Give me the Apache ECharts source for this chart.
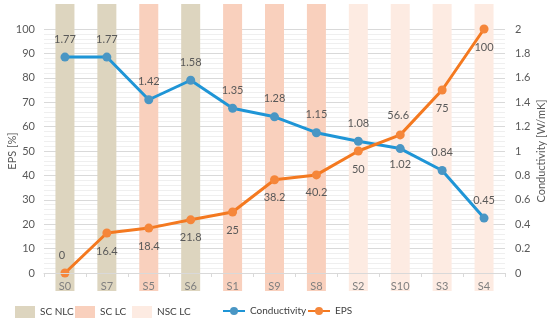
<!DOCTYPE html>
<html><head><meta charset="utf-8">
<script src="https://cdn.jsdelivr.net/npm/echarts@6/dist/echarts.min.js"></script>
<style>html,body{margin:0;padding:0;background:#fff}#c{width:550px;height:320px}</style>
</head><body><div id="c"></div>
<script>
var categories = ['S0','S7','S5','S6','S1','S9','S8','S2','S10','S3','S4'];
var conductivity = [1.77,1.77,1.42,1.58,1.35,1.28,1.15,1.08,1.02,0.84,0.45];
var eps = [0,16.4,18.4,21.8,25,38.2,40.2,50,56.6,75,100];
var groups = ['SC NLC','SC NLC','SC LC','SC NLC','SC LC','SC LC','SC LC','NSC LC','NSC LC','NSC LC','NSC LC'];
var groupNames = ['SC NLC','SC LC','NSC LC'];
var groupColors = {'SC NLC':'#ddd5bf','SC LC':'#f9d0bd','NSC LC':'#fdebe2'};
var leftTicks = {min:0,max:100,interval:10};
var rightTicks = {min:0,max:2,interval:0.2};

var FONT = 'Lato';
var txt = '#595959';

var bandSeries = groupNames.map(function(g){
  return {
    name: g, type:'bar', xAxisIndex:1, yAxisIndex:2,
    barWidth:19, barGap:'-100%', silent:true, z:1,
    itemStyle:{color:groupColors[g]},
    data: groups.map(function(x){return x===g?1:'-';})
  };
});

var condData = conductivity.map(function(v,i){
  var d = {value:v};
  if (categories[i]==='S10') d.label = {position:'bottom', distance:6};
  return d;
});
var epsData = eps.map(function(v,i){
  var d = {value:v};
  if (i===0) { d.label = {position:'top', distance:8, offset:[-3,0]}; }
  else if (categories[i]==='S10') { d.label = {position:'top', distance:9, offset:[-2,0]}; }
  return d;
});

var legendBase = {orient:'horizontal', top:301, textStyle:{color:'#404040',fontSize:10,fontFamily:FONT}, selectedMode:false};

var option = {
  animation:false,
  textStyle:{fontFamily:FONT},
  grid:[
    {left:44, right:45, top:29, bottom:47, outerBoundsMode:'none', containLabel:false},
    {left:44, right:45, top:4, bottom:29, outerBoundsMode:'none', containLabel:false}
  ],
  legend:[
    Object.assign({}, legendBase, {left:10, data:['SC NLC'], itemWidth:20, itemHeight:12, icon:'rect'}),
    Object.assign({}, legendBase, {left:70, data:['SC LC'], itemWidth:20, itemHeight:12, icon:'rect'}),
    Object.assign({}, legendBase, {left:127, data:['NSC LC'], itemWidth:20, itemHeight:12, icon:'rect'}),
    Object.assign({}, legendBase, {left:217, data:['Conductivity'], itemWidth:22, itemHeight:10}),
    Object.assign({}, legendBase, {left:302, data:['EPS'], itemWidth:22, itemHeight:10})
  ],
  xAxis:[
    {type:'category', gridIndex:0, data:categories, boundaryGap:true,
     axisLine:{lineStyle:{color:'#d9d9d9'}},
     axisTick:{show:true, length:4, lineStyle:{color:'#d9d9d9'}},
     axisLabel:{color:'#7f7f7f', fontSize:11, margin:8},
     splitLine:{show:false}, z:5},
    {type:'category', gridIndex:1, data:categories, boundaryGap:true, show:false}
  ],
  yAxis:[
    {type:'value', gridIndex:0, min:leftTicks.min, max:leftTicks.max, interval:leftTicks.interval,
     name:'EPS [%]', nameLocation:'middle', nameGap:26, nameMoveOverlap:false, nameTextStyle:{color:txt,fontSize:11},
     axisLine:{show:false}, axisTick:{show:false},
     axisLabel:{color:txt, fontSize:11, margin:9},
     splitLine:{show:true, lineStyle:{color:'#d9d9d9'}},
     minorTick:{show:false, splitNumber:5},
     minorSplitLine:{show:true, lineStyle:{color:'#efefef'}}},
    {type:'value', gridIndex:0, position:'right', min:rightTicks.min, max:rightTicks.max, interval:rightTicks.interval,
     name:'Conductivity [W/mK]', nameLocation:'middle', nameGap:31, nameMoveOverlap:false, nameRotate:90, nameTextStyle:{color:txt,fontSize:11},
     axisLine:{show:false}, axisTick:{show:false},
     axisLabel:{color:txt, fontSize:11, margin:10, formatter:function(v){return String(Math.round(v*10)/10);}},
     splitLine:{show:false}},
    {type:'value', gridIndex:1, min:0, max:1, show:false}
  ],
  series: bandSeries.concat([
    {name:'Conductivity', type:'line', xAxisIndex:0, yAxisIndex:1, z:4,
     data:condData, symbol:'circle', symbolSize:9,
     lineStyle:{color:'#1f95d6', width:3}, itemStyle:{color:'#4a96c4'},
     label:{show:true, position:'top', distance:8, color:txt, fontSize:11}},
    {name:'EPS', type:'line', xAxisIndex:0, yAxisIndex:0, z:4,
     data:epsData, symbol:'circle', symbolSize:9,
     lineStyle:{color:'#f47920', width:3}, itemStyle:{color:'#f5863a'},
     label:{show:true, position:'bottom', distance:8, color:txt, fontSize:11}}
  ])
};
var chart = echarts.init(document.getElementById('c'));
chart.setOption(option);
</script></body></html>
